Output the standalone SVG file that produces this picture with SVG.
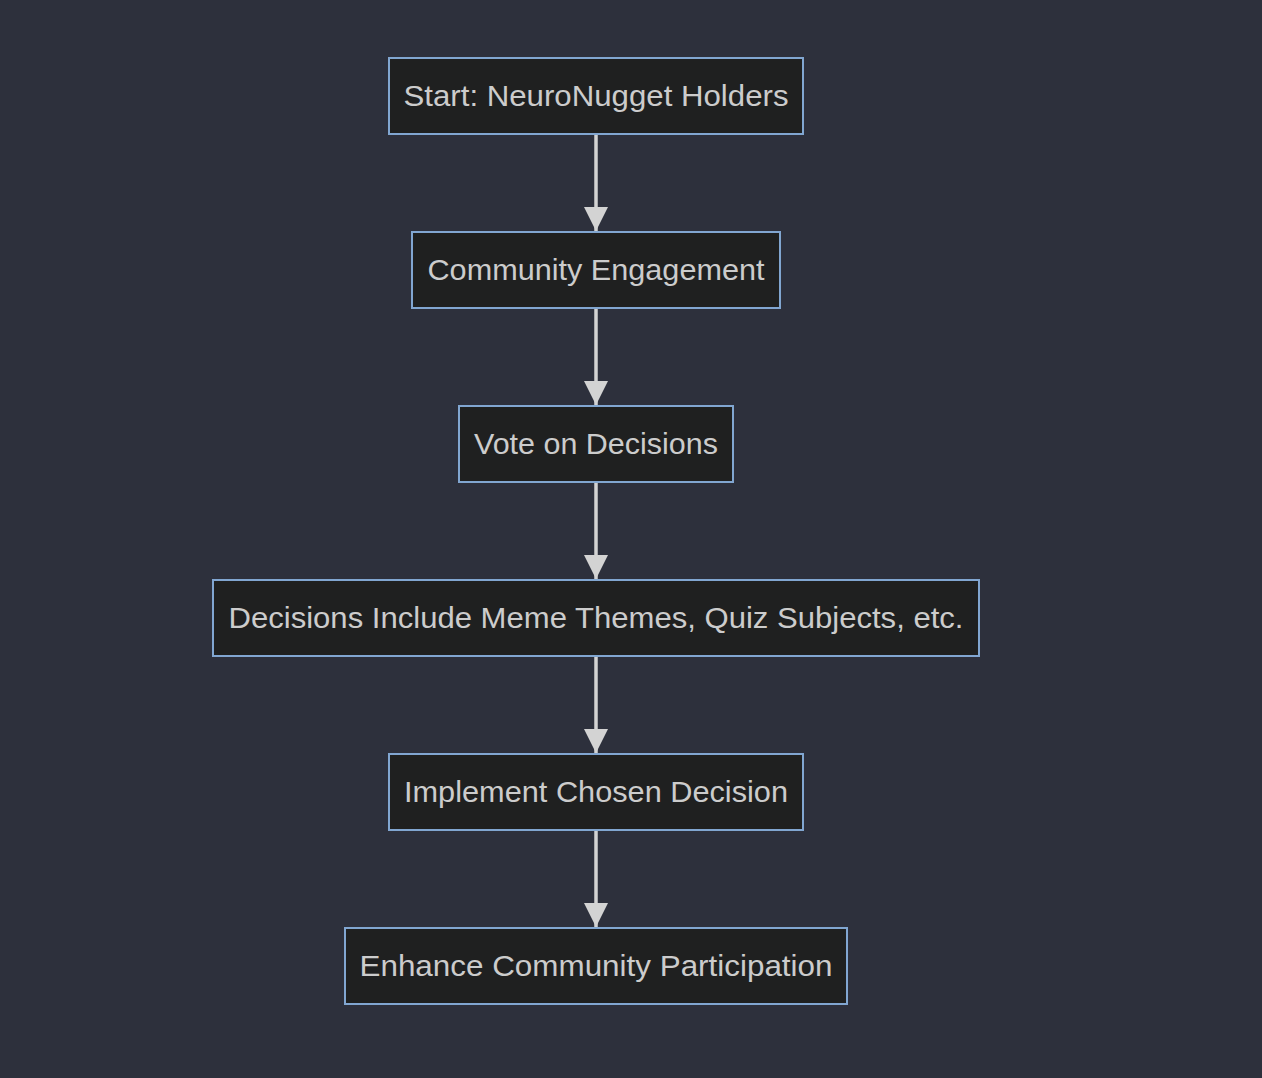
<svg xmlns="http://www.w3.org/2000/svg" width="1262" height="1078" viewBox="0 0 1262 1078">
<style>
.node rect{fill:#1f2020;stroke:#81a6d1;stroke-width:2}
.node text{fill:#cccccc;font-family:"Liberation Sans","DejaVu Sans",sans-serif;font-size:29px;text-anchor:middle}
.edge{stroke:#d3d3d3;stroke-width:3.5;fill:none}
</style>
<defs>
<marker id="arrow" markerUnits="userSpaceOnUse" markerWidth="24" markerHeight="24" refX="24" refY="12" viewBox="0 0 24 24" orient="auto">
<path d="M0,0 L24,12 L0,24 Z" fill="#d3d3d3"/>
</marker>
</defs>
<rect width="1262" height="1078" fill="#2d303c"/>
<g id="connectors">
<path class="edge" d="M596,134 L596,231" marker-end="url(#arrow)"/>
<path class="edge" d="M596,308 L596,405" marker-end="url(#arrow)"/>
<path class="edge" d="M596,482 L596,579" marker-end="url(#arrow)"/>
<path class="edge" d="M596,656 L596,753" marker-end="url(#arrow)"/>
<path class="edge" d="M596,830 L596,927" marker-end="url(#arrow)"/>
</g>
<g id="n1" class="node"><rect x="389" y="58" width="414" height="76"/><text x="596" y="106" textLength="385" lengthAdjust="spacingAndGlyphs">Start: NeuroNugget Holders</text></g>
<g id="n2" class="node"><rect x="412" y="232" width="368" height="76"/><text x="596" y="280" textLength="337" lengthAdjust="spacingAndGlyphs">Community Engagement</text></g>
<g id="n3" class="node"><rect x="459" y="406" width="274" height="76"/><text x="596" y="454" textLength="244" lengthAdjust="spacingAndGlyphs">Vote on Decisions</text></g>
<g id="n4" class="node"><rect x="213" y="580" width="766" height="76"/><text x="596" y="628" textLength="735" lengthAdjust="spacingAndGlyphs">Decisions Include Meme Themes, Quiz Subjects, etc.</text></g>
<g id="n5" class="node"><rect x="389" y="754" width="414" height="76"/><text x="596" y="802" textLength="384" lengthAdjust="spacingAndGlyphs">Implement Chosen Decision</text></g>
<g id="n6" class="node"><rect x="345" y="928" width="502" height="76"/><text x="596" y="976" textLength="473" lengthAdjust="spacingAndGlyphs">Enhance Community Participation</text></g>
</svg>
